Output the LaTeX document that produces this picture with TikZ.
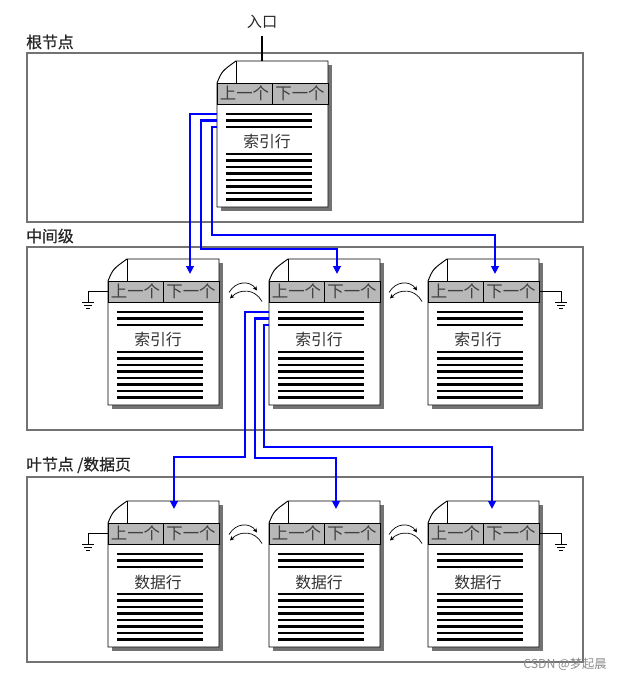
\documentclass[tikz,border=0pt]{standalone}
\usepackage{fontspec}
\newfontfamily\cjk{Noto Sans CJK SC}
\newfontfamily\cjkb[FakeBold=0.6]{Noto Sans CJK SC}
\usetikzlibrary{arrows.meta}
\usetikzlibrary{calc}
\tikzset{hdr/.style={font=\cjk\fontsize{14}{14}\selectfont,text=black!75,inner sep=0pt}}
\tikzset{txt/.style={font=\cjk\fontsize{13.5}{13.5}\selectfont,text=black!80,inner sep=0pt}}
\tikzset{lvl/.style={font=\cjkb\fontsize{13.5}{13.5}\selectfont,text=black!85,anchor=west,inner sep=0pt}}
\tikzset{frame/.style={draw=black!55,line width=1.2pt}}
\tikzset{link/.style={draw=blue,line width=2.3pt,-{Triangle[length=2.4mm,width=2.3mm]}}}
\tikzset{swap/.style={line width=0.6pt,-{Stealth[length=1.3mm,width=1.3mm]}}}
\tikzset{rows/.style={line width=1.9pt}}
\tikzset{thin/.style={line width=0.8pt}}

% one index / data page, top left corner at (#2,#3)
\newcommand{\docpage}[4]{%
  \fill[black!55] (#2+111,#3+4) rectangle (#2+115,#3+150);
  \fill[black!55] (#2+4,#3+146) rectangle (#2+115,#3+150);
  \filldraw[thin,fill=white] (#2+19,#3) -- (#2+111,#3) -- (#2+111,#3+146) -- (#2,#3+146)
    -- (#2,#3+22) .. controls (#2+5,#3+10) .. (#2+19,#3) -- cycle;
  \draw[thin] (#2+19,#3) -- (#2+19,#3+22);
  \filldraw[thin,fill=black!28] (#2,#3+22) rectangle (#2+111,#3+43);
  \draw[thin] (#2+55,#3+22) -- (#2+55,#3+43);
  \node[hdr] (#1-prev) at (#2+27.5,#3+32.5) {上一个};
  \node[hdr] (#1-next) at (#2+83,#3+32.5) {下一个};
  \foreach \k in {53,59.5,66} \draw[rows] (#2+9,#3+\k) -- (#2+95,#3+\k);
  \node[txt] (#1) at (#2+50,#3+81) {#4};
  \foreach \k in {0,...,7} \draw[rows] (#2+9,#3+93+6.5*\k) -- (#2+95,#3+93+6.5*\k);
  \coordinate (#1-l1) at (#2,#3+53);
  \coordinate (#1-l2) at (#2,#3+59.5);
  \coordinate (#1-l3) at (#2,#3+66);
  \coordinate (#1-w) at (#2,#3+32.5);
  \coordinate (#1-e) at (#2+111,#3+32.5);
  \coordinate (#1-top) at (#2+45,#3);
}
\newcommand{\earth}[1]{%
  \draw[thin] ($(#1)+(-6,0)$) -- ($(#1)+(6,0)$)
    ($(#1)+(-4,3)$) -- ($(#1)+(4,3)$)
    ($(#1)+(-2,6)$) -- ($(#1)+(2,6)$);
}
\newcommand{\swaparrows}[1]{%
  \draw[swap] ($(#1)+(-15,1)$) .. controls ($(#1)+(-8,-11)$) and ($(#1)+(6,-11)$) .. ($(#1)+(13,-1)$);
  \draw[swap] ($(#1)+(18,10)$) .. controls ($(#1)+(11,-3)$) and ($(#1)+(-4,-3)$) .. ($(#1)+(-14,7)$);
}

\begin{document}
\begin{tikzpicture}[x=0.03cm,y=-0.03cm]
  \useasboundingbox (0,0) rectangle (631,681);

  \draw[frame] (27,53) rectangle (583,222);
  \draw[frame] (27,247) rectangle (583,430);
  \draw[frame] (27,477) rectangle (583,662);
  \node[lvl] (rootlbl) at (26,42) {根节点};
  \node[lvl] (midlbl) at (26,236) {中间级};
  \node[lvl] (leaflbl) at (26,465) {叶节点 /数据页};

  \docpage{R}{217}{61}{索引行}
  \docpage{M1}{108}{259}{索引行}
  \docpage{M2}{269}{259}{索引行}
  \docpage{M3}{428}{259}{索引行}
  \docpage{L1}{108}{501}{数据行}
  \docpage{L2}{269}{501}{数据行}
  \docpage{L3}{428}{501}{数据行}

  \node[font=\cjk\fontsize{13}{13}\selectfont,text=black!85,inner sep=0pt] (entry) at (262,22) {入口};
  \draw[line width=1.7pt,shorten <=6pt] (entry) -- (R-top);

  \coordinate (M1-in) at (190,274);
  \coordinate (M2-in) at (337,274);
  \coordinate (M3-in) at (495,274);
  \coordinate (L1-in) at (174,509);
  \coordinate (L2-in) at (336,509);
  \coordinate (L3-in) at (492,509);
  \draw[link] (R-l1) -| (M1-in);
  \draw[link] (R-l2) -| (201,249) -| (M2-in);
  \draw[link] (R-l3) -| (212,235) -| (M3-in);
  \draw[link] (M2-l1) -| (245,457) -| (L1-in);
  \draw[link] (M2-l2) -| (255,458) -| (L2-in);
  \draw[link] (M2-l3) -| (264,447) -| (L3-in);

  \coordinate (s1) at ($(M1-e)!0.5!(M2-w)$);
  \coordinate (s2) at ($(M2-e)!0.5!(M3-w)$);
  \coordinate (s3) at ($(L1-e)!0.5!(L2-w)$);
  \coordinate (s4) at ($(L2-e)!0.5!(L3-w)$);
  \swaparrows{s1}
  \swaparrows{s2}
  \swaparrows{s3}
  \swaparrows{s4}

  \draw[thin] (M1-w) -| ++(-20,11) coordinate (g1);
  \earth{g1}
  \draw[thin] (M3-e) -| ++(22,11) coordinate (g2);
  \earth{g2}
  \draw[thin] (L1-w) -| ++(-20,11) coordinate (g3);
  \earth{g3}
  \draw[thin] (L3-e) -| ++(22,11) coordinate (g4);
  \earth{g4}

  \node[font=\fontsize{10.5}{10.5}\selectfont\cjk,text=black!45,inner sep=0pt] (wm) at (565,664) {CSDN @梦起晨};
\end{tikzpicture}
\end{document}
